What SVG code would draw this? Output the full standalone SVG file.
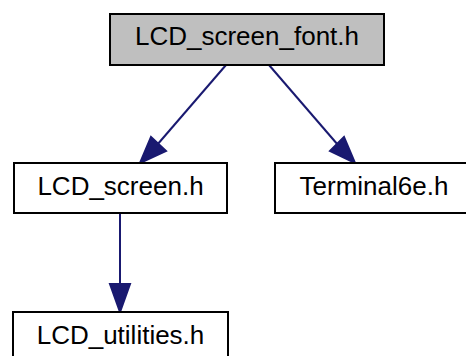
<svg xmlns="http://www.w3.org/2000/svg" width="466" height="356" viewBox="0 0 466 356">
  <style>
    .box { fill: #ffffff; stroke: #000000; stroke-width: 2; }
    .root { fill: #bfbfbf; }
    .label { font-family: "Liberation Sans", Arial, Helvetica, sans-serif; font-size: 26px; fill: #000000; text-anchor: middle; }
    .edge { stroke: #191970; stroke-width: 2; fill: none; }
    .head { fill: #191970; stroke: #191970; stroke-width: 2; stroke-linejoin: miter; }
  </style>
  <rect width="466" height="356" fill="#ffffff"/>

  <g id="connectors">
    <!-- LCD_screen_font.h -> LCD_screen.h -->
    <path class="edge" d="M226,65 L157,145"/>
    <polygon class="head" points="151,137 166,151 140,163"/>
    <!-- LCD_screen_font.h -> Terminal6e.h -->
    <path class="edge" d="M269,65 L338,145"/>
    <polygon class="head" points="330,151 344,137 355,163"/>
    <!-- LCD_screen.h -> LCD_utilities.h -->
    <path class="edge" d="M120,213 L120,286"/>
    <polygon class="head" points="110,284 130,284 120,312"/>
  </g>

  <g id="node-LCD_screen_font">
    <rect class="box root" x="110" y="14" width="274" height="51"/>
    <text class="label" x="247" y="45">LCD_screen_font.h</text>
  </g>

  <g id="node-LCD_screen">
    <rect class="box" x="14" y="163" width="213" height="50"/>
    <text class="label" x="120.5" y="195">LCD_screen.h</text>
  </g>

  <g id="node-Terminal6e">
    <rect class="box" x="275" y="163" width="198" height="50"/>
    <text class="label" x="374" y="195">Terminal6e.h</text>
  </g>

  <g id="node-LCD_utilities">
    <rect class="box" x="13" y="312" width="215" height="50"/>
    <text class="label" x="120.5" y="344">LCD_utilities.h</text>
  </g>
</svg>
